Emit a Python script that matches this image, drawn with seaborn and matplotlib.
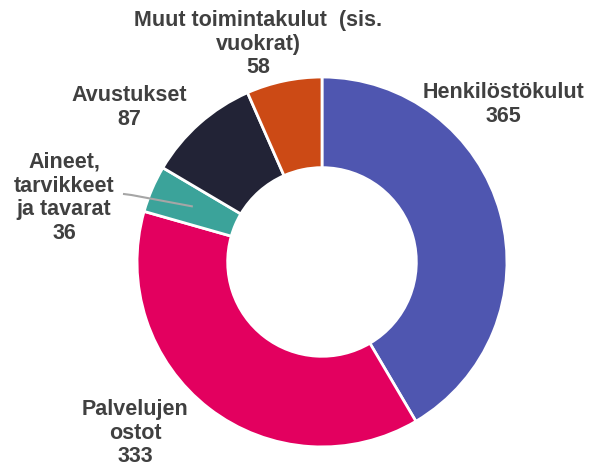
import numpy as np
import matplotlib
matplotlib.use("Agg")
import matplotlib.pyplot as plt
import seaborn as sns

# data
categories = ["Henkilöstökulut", "Palvelujen\nostot", "Aineet,\ntarvikkeet\nja tavarat",
              "Avustukset", "Muut toimintakulut  (sis.\nvuokrat)"]
values = [365, 333, 36, 87, 58]
colors = ["#4F56B0", "#E3005F", "#3BA39A", "#222336", "#CC4A15"]

# label centres in data units (pie radius = 1)
label_pos = [(0.98, 0.85), (-1.01, -0.925), (-1.395, 0.346), (-1.04, 0.835), (-0.346, 1.178)]

sns.set_theme(style="white")
plt.rcParams['font.family'] = ['Liberation Sans', 'DejaVu Sans']

fig = plt.figure(figsize=(5.9, 4.69), dpi=100)
ax = fig.add_axes([0, 0, 1, 1])

wedges, _ = ax.pie(
    values,
    colors=sns.color_palette(colors),
    startangle=90,
    counterclock=False,
    radius=1.0,
    wedgeprops=dict(width=0.49, edgecolor="white", linewidth=2),
)

for cat, val, (x, y) in zip(categories, values, label_pos):
    ax.text(x, y, f"{cat}\n{val}", ha="center", va="center",
            fontsize=15.5, fontweight="bold", color="#404040", linespacing=1.18)

# leader line for the small teal slice
w = wedges[2]
mid = np.deg2rad((w.theta1 + w.theta2) / 2)
ax.plot([-1.076, -1.03, 0.76 * np.cos(mid)], [0.368, 0.362, 0.76 * np.sin(mid)],
        color="#A6A6A6", lw=1.5, solid_capstyle="butt")

ax.set_xlim(-1.741, 1.449)
ax.set_ylim(-1.119, 1.416)
ax.set_aspect("equal")
ax.axis("off")

fig.savefig("out.png", dpi=100, facecolor="white")
